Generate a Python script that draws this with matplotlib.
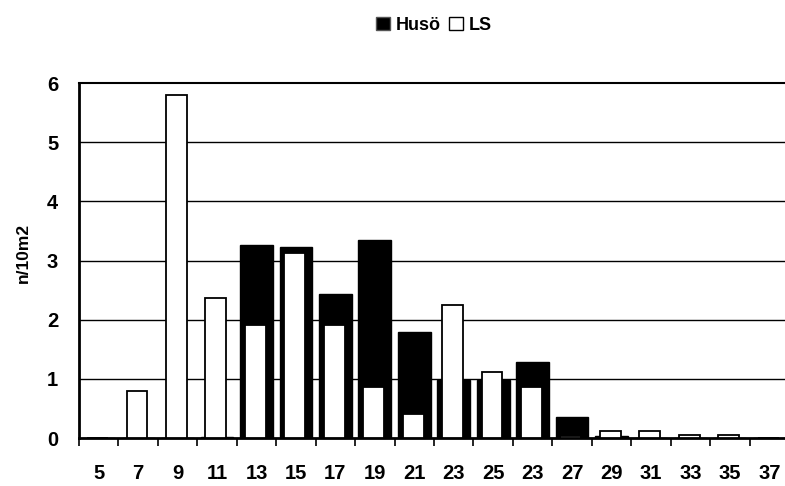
import matplotlib
matplotlib.use("Agg")
import matplotlib.pyplot as plt
import matplotlib.patches as mpatches
import numpy as np

plt.rcParams['font.family'] = ['Liberation Sans', 'DejaVu Sans']

# size classes (labels as printed in the original, incl. the repeated 23)
categories = ['5', '7', '9', '11', '13', '15', '17', '19', '21', '23',
              '25', '23', '27', '29', '31', '33', '35', '37']
huso = [0, 0, 0, 0.02, 3.27, 3.23, 2.43, 3.34, 1.79, 0.98,
        0.98, 1.29, 0.36, 0.03, 0, 0, 0, 0]
ls = [0, 0.80, 5.80, 2.36, 1.91, 3.12, 1.91, 0.86, 0.41, 2.24,
      1.11, 0.86, 0.04, 0.11, 0.11, 0.05, 0.05, 0]

fig = plt.figure(figsize=(7.85, 4.86), dpi=100, facecolor='white')
ax = fig.add_axes([79 / 785, 48 / 486, 710 / 785, 355 / 486])

x = np.arange(len(categories))

# grid
for yv in range(1, 6):
    ax.axhline(yv, color='black', linewidth=1.0, zorder=0)

ax.bar(x, huso, width=0.83, color='black', edgecolor='black',
       linewidth=1.0, zorder=2)
ax.bar(x - 0.03, ls, width=0.53, color='white', edgecolor='black',
       linewidth=1.3, zorder=3)

ax.set_xlim(-0.5, len(categories) - 0.5)
ax.set_ylim(0, 6)

ax.set_xticks(x)
ax.set_xticklabels(categories, fontsize=14.5, fontweight='bold')
ax.set_xticks(np.arange(len(categories)) - 0.5, minor=True)
ax.tick_params(axis='x', which='major', length=0, pad=19)
ax.tick_params(axis='x', which='minor', length=6, width=1.2,
               direction='out', color='black')

ax.set_yticks(range(0, 7))
ax.set_yticklabels([str(v) for v in range(0, 7)], fontsize=14.5,
                   fontweight='bold')
ax.tick_params(axis='y', length=0, pad=15)

ax.set_ylabel('n/10m2', fontsize=12.5, fontweight='bold')
ax.yaxis.set_label_coords(-0.068, 0.522)

for side in ['left', 'bottom']:
    ax.spines[side].set_linewidth(2.0)
ax.spines['top'].set_linewidth(1.5)
ax.spines['right'].set_visible(False)

handles = [mpatches.Patch(facecolor='black', edgecolor='#555555', label='Husö'),
           mpatches.Patch(facecolor='white', edgecolor='black', label='LS')]
fig.legend(handles=handles, loc='center', bbox_to_anchor=(434 / 785, 1 - 25 / 486),
           ncol=2, frameon=False, prop={'weight': 'bold', 'size': 13},
           handlelength=0.75, handleheight=0.75, handletextpad=0.3,
           columnspacing=0.5, borderpad=0)

fig.savefig('out.png', dpi=100, facecolor='white')
